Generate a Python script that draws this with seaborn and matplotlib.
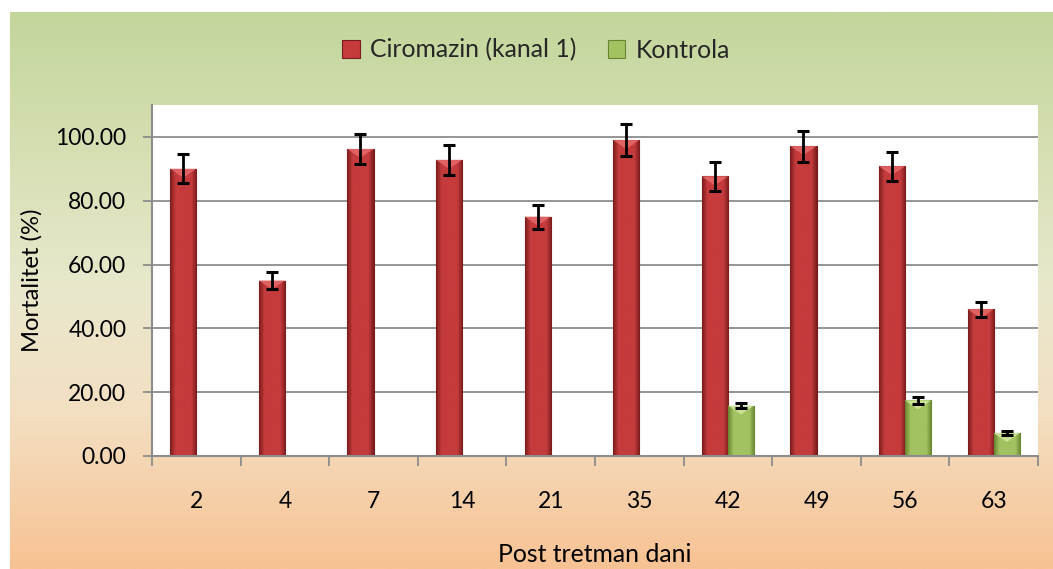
import numpy as np
import pandas as pd
import matplotlib
matplotlib.use("Agg")
import matplotlib.pyplot as plt
from matplotlib.colors import LinearSegmentedColormap
from matplotlib.patches import Patch, Polygon
import seaborn as sns

# Days after treatment
days = ["2", "4", "7", "14", "21", "35", "42", "49", "56", "63"]
# Mortality (%) and standard errors
ciromazin = [90.0, 55.0, 96.2, 92.8, 75.0, 99.0, 87.6, 97.1, 90.8, 46.0]
ciromazin_err = [4.5, 2.8, 4.8, 4.7, 3.8, 5.0, 4.4, 4.9, 4.6, 2.3]
kontrola = [0.0, 0.0, 0.0, 0.0, 0.0, 0.0, 15.8, 0.0, 17.4, 7.2]
kontrola_err = [0.0, 0.0, 0.0, 0.0, 0.0, 0.0, 0.9, 0.0, 1.0, 0.5]
series_names = ["Ciromazin (kanal 1)", "Kontrola"]

df = pd.DataFrame({
    "dan": days * 2,
    "mortalitet": ciromazin + kontrola,
    "err": ciromazin_err + kontrola_err,
    "grupa": [series_names[0]] * len(days) + [series_names[1]] * len(days),
})

sns.set_theme(style="white")
plt.rcParams["font.family"] = ["Lato", "DejaVu Sans"]

W, H = 1053, 569
fig = plt.figure(figsize=(W / 100, H / 100), dpi=100, facecolor="white")

# chart area background: vertical gradient green -> cream -> peach
bg = fig.add_axes([10 / W, 0, 1 - 10 / W, 1 - 12 / H])
bg_cmap = LinearSegmentedColormap.from_list(
    "bg", [(0.0, "#c3d69b"), (0.5, "#e9e8cc"), (0.72, "#f3dfc2"), (1.0, "#f8c293")])
bg.imshow(np.linspace(0, 1, 256).reshape(-1, 1), aspect="auto", cmap=bg_cmap,
          extent=[0, 1, 0, 1])
bg.set_axis_off()

ax = fig.add_axes([152 / W, 1 - 456 / H, (1038 - 152) / W, (456 - 105) / H])
ax.set_facecolor("white")

palette = {series_names[0]: "#c0393b", series_names[1]: "#9bbb59"}
sns.barplot(data=df, x="dan", y="mortalitet", hue="grupa", palette=palette,
            width=0.59, errorbar=None, ax=ax, legend=False, zorder=3,
            saturation=1)

# (edge, body, bevel highlight) shades for each series
shade = {
    series_names[0]: ("#7a1c1d", "#c53b3c", "#e56a6b"),
    series_names[1]: ("#68862f", "#a2c261", "#d3e8a0"),
}

ylim_top = 110
for cont, name, errs in zip(ax.containers, series_names, [ciromazin_err, kontrola_err]):
    dark, mid, light = shade[name]
    cm = LinearSegmentedColormap.from_list(
        name, [(0, dark), (0.2, mid), (0.5, mid), (0.8, mid), (1, dark)])
    xs, tops = [], []
    for bar in cont:
        x0, w, h = bar.get_x(), bar.get_width(), bar.get_height()
        xs.append(x0 + w / 2)
        tops.append(h)
        if h <= 0:
            continue
        bar.set_edgecolor(dark)
        bar.set_linewidth(0.8)
        im = ax.imshow(np.linspace(0, 1, 64).reshape(1, -1), cmap=cm, aspect="auto",
                       extent=[x0, x0 + w, 0, h], zorder=3.1, interpolation="bilinear")
        im.set_clip_path(bar)
        bev = min(2.8, h * 0.45)
        ax.add_patch(Polygon([(x0, h), (x0 + w, h), (x0 + w / 2, h - bev)],
                             closed=True, facecolor=light, edgecolor="none",
                             alpha=0.85, zorder=3.2))
    xs = np.array(xs)
    tops = np.array(tops)
    errs = np.array(errs)
    mask = errs > 0
    ax.errorbar(xs[mask], tops[mask], yerr=errs[mask], fmt="none", ecolor="black",
                elinewidth=2, capsize=4.5, capthick=2.2, zorder=5)

ax.set_xlim(-0.5, len(days) - 0.5)
ax.set_ylim(0, ylim_top)
ax.set_yticks(np.arange(0, 101, 20))
ax.set_yticklabels([f"{v:.2f}" for v in np.arange(0, 101, 20)])
ax.grid(axis="y", color="#8c8c8c", linewidth=1.3, zorder=0)
ax.set_axisbelow(True)

for s in ["top", "right"]:
    ax.spines[s].set_visible(False)
for s in ["left", "bottom"]:
    ax.spines[s].set_color("#8c8c8c")
    ax.spines[s].set_linewidth(1.5)
    ax.spines[s].set_zorder(6)

ax.set_xticks(np.arange(-0.5, len(days)), minor=True)
ax.tick_params(axis="x", which="major", length=0, pad=25, labelsize=16.5, colors="black")
ax.tick_params(axis="x", which="minor", bottom=True, length=7, width=1.3, color="#8c8c8c")
ax.tick_params(axis="y", which="major", left=True, length=6.5, width=1.3,
               color="#8c8c8c", pad=12, labelsize=16.5, labelcolor="black")

ax.set_xlabel("Post tretman dani", fontsize=17.8, color="black")
ax.xaxis.set_label_coords(0.5, -(543 - 456) / (456 - 105), transform=ax.transAxes)
ax.set_ylabel("Mortalitet (%)", fontsize=17.2, color="black")
ax.yaxis.set_label_coords(-(152 - 43) / (1038 - 152), 0.5)

handles = [Patch(facecolor=shade[n][1], edgecolor=shade[n][0], linewidth=0.8, label=n)
           for n in series_names]
fig.legend(handles=handles, loc="center", bbox_to_anchor=(536 / W, 1 - 50 / H),
           ncol=2, frameon=False, fontsize=17.8, handlelength=0.7, handleheight=0.7,
           handletextpad=0.4, columnspacing=1.3)

fig.savefig("out.png", dpi=100, facecolor="white")
